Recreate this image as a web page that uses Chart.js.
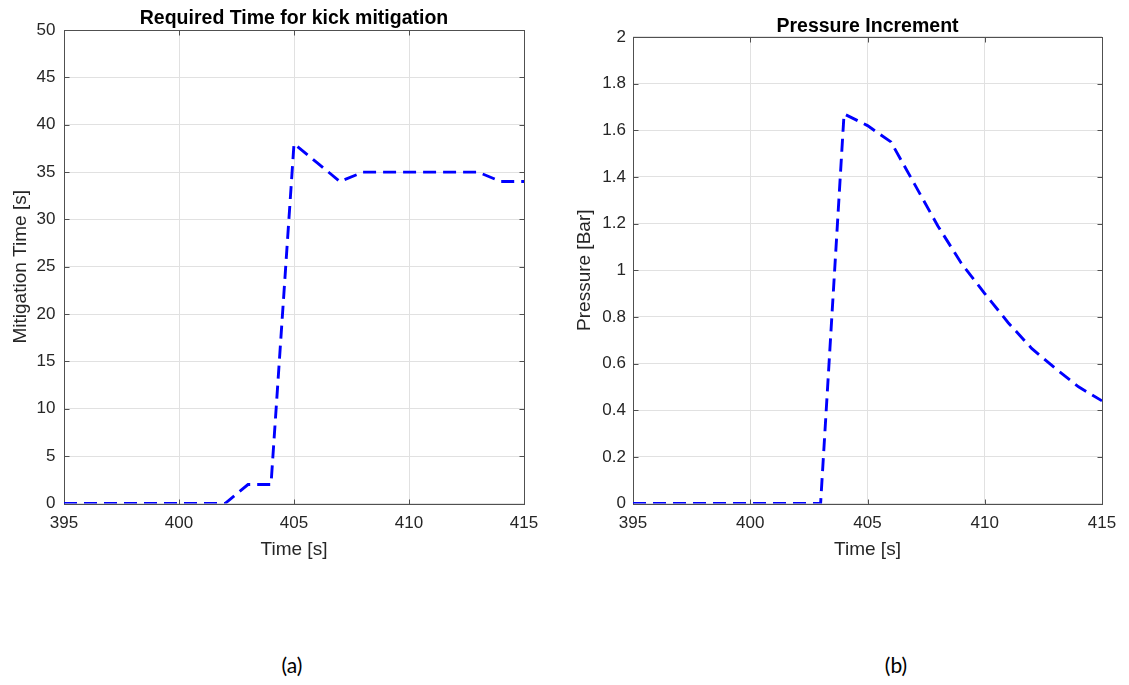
<!DOCTYPE html>
<html><head><meta charset="utf-8">
<script src="https://cdn.jsdelivr.net/npm/chart.js@4.4.1/dist/chart.umd.min.js"></script>
<style>
html,body{margin:0;padding:0;background:#fff;width:1129px;height:685px;overflow:hidden;}
.box{position:absolute;top:0;}
#wa{left:0;width:560px;height:600px;}
#wb{left:560px;width:569px;height:600px;}
.cap{position:absolute;top:652px;font-family:Lato,'Open Sans',sans-serif;font-size:21px;color:#000;transform:translateX(-50%);line-height:1.2;}
</style></head><body>
<div class="box" id="wa"><canvas id="ca" width="560" height="600"></canvas></div>
<div class="box" id="wb"><canvas id="cb" width="569" height="600"></canvas></div>
<div class="cap" style="left:292px">(a)</div>
<div class="cap" style="left:896px">(b)</div>
<script>
// ---- data ----
const timeSec = [395,396,397,398,399,400,401,402,403,404,405,406,407,408,409,410,411,412,413,414,415];
const mitigationTime = [0,0,0,0,0,0,0,0,2,2,38,36,34,35,35,35,35,35,35,34,34];
const pressureInc = [0,0,0,0,0,0,0,0,0,1.67,1.62,1.55,1.37,1.19,1.03,0.90,0.775,0.665,0.58,0.50,0.44];
const xTickVals = [395,400,405,410,415];
const xTickLabels = ['395','400','405','410','415'];
const yTickValsA = [0,5,10,15,20,25,30,35,40,45,50];
const yTickLabelsA = ['0','5','10','15','20','25','30','35','40','45','50'];
const yTickValsB = [0,0.2,0.4,0.6,0.8,1,1.2,1.4,1.6,1.8,2];
const yTickLabelsB = ['0','0.2','0.4','0.6','0.8','1','1.2','1.4','1.6','1.8','2'];

const FONT = "'Liberation Sans', Arial, Helvetica, sans-serif";
const TXT = '#262626';

const framePlugin = {
  id: 'frame',
  beforeDatasetsDraw(chart) {
    const {ctx, chartArea: a, scales: {x, y}} = chart;
    ctx.save();
    ctx.strokeStyle = '#505050';
    ctx.lineWidth = 1;
    const L = Math.round(a.left) + 0.5, R = Math.round(a.right) + 0.5;
    const T = Math.round(a.top) + 0.5, B = Math.round(a.bottom) + 0.5;
    ctx.strokeRect(L, T, R - L, B - T);
    ctx.beginPath();
    x.ticks.forEach(t => {
      const p = Math.round(x.getPixelForValue(t.value)) + 0.5;
      ctx.moveTo(p, B); ctx.lineTo(p, B - 5);
      ctx.moveTo(p, T); ctx.lineTo(p, T + 5);
    });
    y.ticks.forEach(t => {
      const p = Math.round(y.getPixelForValue(t.value)) + 0.5;
      ctx.moveTo(L, p); ctx.lineTo(L + 5, p);
      ctx.moveTo(R, p); ctx.lineTo(R - 5, p);
    });
    ctx.stroke();
    ctx.restore();
  }
};

function makeChart(id, cfg) {
  const pts = timeSec.map((t, i) => ({x: t, y: cfg.values[i]}));
  return new Chart(document.getElementById(id), {
    type: 'line',
    data: {datasets: [{
      data: pts,
      borderColor: '#0000ff',
      borderWidth: 2.9,
      borderDash: [13, 7],
      pointRadius: 0,
      tension: 0,
      fill: false
    }]},
    options: {
      responsive: false,
      animation: false,
      events: [],
      layout: {padding: cfg.padding},
      plugins: {
        legend: {display: false},
        tooltip: {enabled: false},
        title: {
          display: true,
          text: cfg.title,
          fullSize: false,
          color: '#000',
          font: {family: FONT, size: 19.5, weight: 'bold', lineHeight: 1.1},
          padding: cfg.titlePad
        }
      },
      scales: {
        x: {
          type: 'linear',
          min: 395, max: 415,
          afterBuildTicks: s => { s.ticks = xTickVals.map(v => ({value: v})); },
          afterFit: s => { s.height = cfg.xHeight; },
          ticks: {
            callback: (v, i) => xTickLabels[i],
            color: TXT, padding: 10, maxRotation: 0,
            font: {family: FONT, size: 17}
          },
          grid: {color: '#e1e1e1', drawTicks: false},
          border: {display: false},
          title: {
            display: true, text: 'Time [s]', color: TXT,
            font: {family: FONT, size: 19, lineHeight: 1.2},
            padding: {top: 0, bottom: 39}
          }
        },
        y: {
          type: 'linear',
          min: cfg.yMin, max: cfg.yMax,
          afterBuildTicks: s => { s.ticks = cfg.yVals.map(v => ({value: v})); },
          afterFit: s => { s.width = cfg.yWidth; },
          ticks: {
            callback: (v, i) => cfg.yLabels[i],
            color: TXT, padding: cfg.yPad,
            font: {family: FONT, size: 17}
          },
          grid: {color: '#e1e1e1', drawTicks: false},
          border: {display: false},
          title: {
            display: true, text: cfg.yTitle, color: TXT,
            font: {family: FONT, size: 19, lineHeight: 1.2},
            padding: {top: cfg.yTitlePad, bottom: 0}
          }
        }
      }
    },
    plugins: [framePlugin]
  });
}

makeChart('ca', {
  values: mitigationTime,
  title: 'Required Time for kick mitigation',
  titlePad: {top: 8, bottom: 0.6},
  padding: {left: 0, right: 36, top: 0, bottom: 0},
  xHeight: 96.5,
  yMin: 0, yMax: 50, yVals: yTickValsA, yLabels: yTickLabelsA,
  yWidth: 64, yPad: 8.5,
  yTitle: 'Mitigation Time [s]', yTitlePad: 9.6
});

makeChart('cb', {
  values: pressureInc,
  title: 'Pressure Increment',
  titlePad: {top: 15.5, bottom: 0},
  padding: {left: 0, right: 27, top: 0, bottom: 0},
  xHeight: 96.5,
  yMin: 0, yMax: 2, yVals: yTickValsB, yLabels: yTickLabelsB,
  yWidth: 73, yPad: 7,
  yTitle: 'Pressure [Bar]', yTitlePad: 13
});
</script>
</body></html>
